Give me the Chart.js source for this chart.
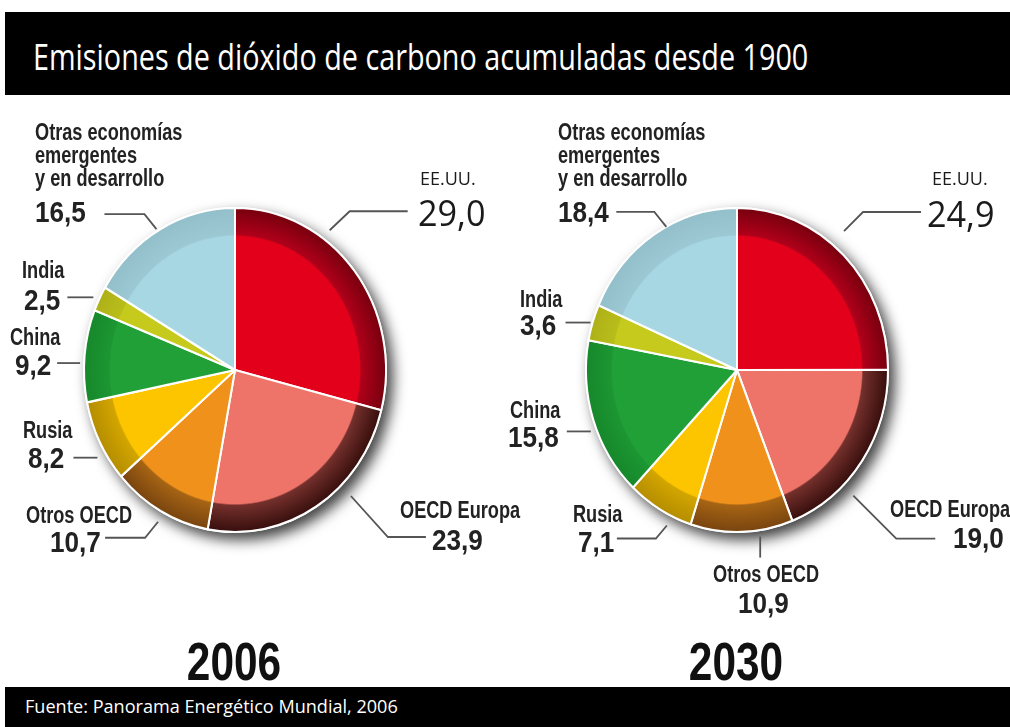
<!doctype html>
<html>

<head>
    <meta charset="utf-8" />
    <title>Emisiones de dióxido de carbono acumuladas desde 1900</title>
    <style>
        html,
        body {
            margin: 0px;
            padding: 0px;
            background-color: #ffffff;
        }

        body {
            position: relative;
            width: 1010px;
            height: 727px;
            overflow: hidden;
            font-family: "Open Sans", sans-serif;
        }

        .header {
            position: absolute;
            left: 5px;
            top: 12px;
            width: 1005px;
            height: 83px;
            background-color: #000000;
        }

        .header h1 {
            position: absolute;
            left: 28px;
            top: 25px;
            margin: 0px;
            color: #ffffff;
            font-weight: 400;
            font-size: 37px;
            line-height: 37px;
            white-space: nowrap;
            transform-origin: left center;
        }

        .footer {
            position: absolute;
            left: 5px;
            top: 687px;
            width: 1005px;
            height: 40px;
            background-color: #000000;
        }

        .footer span {
            position: absolute;
            left: 20px;
            top: 10px;
            color: #ffffff;
            font-size: 19px;
            line-height: 19px;
            white-space: nowrap;
            transform-origin: left center;
        }

        .pie {
            position: absolute;
            top: 100px;
        }
    </style>
</head>

<body>

    <div class="header">
        <h1 id="title">Emisiones de dióxido de carbono acumuladas desde 1900</h1>
    </div>

    <canvas class="pie" id="pie2006" width="560" height="587" style="left:0px"></canvas>
    <canvas class="pie" id="pie2030" width="505" height="587" style="left:505px"></canvas>

    <div class="footer">
        <span id="source">Fuente: Panorama Energético Mundial, 2006</span>
    </div>

    <script src="https://cdn.jsdelivr.net/npm/chart.js@4.4.1/dist/chart.umd.min.js"></script>

    <script>

        // data (% of cumulative emissions)
        const categories = ['EE.UU.', 'OECD Europa', 'Otros OECD', 'Rusia', 'China', 'India', 'Otras economías emergentes y en desarrollo'];
        const categoryLines = [['EE.UU.'], ['OECD Europa'], ['Otros OECD'], ['Rusia'], ['China'], ['India'], ['Otras economías', 'emergentes', 'y en desarrollo']];
        const values2006 = [29.0, 23.9, 10.7, 8.2, 9.2, 2.5, 16.5];
        const values2030 = [24.9, 19.0, 10.9, 7.1, 15.8, 3.6, 18.4];
        const years = ['2006', '2030'];

        // colours: face and darker rim of each slice
        const sliceColors = ['#e2001a', '#ee7368', '#f0911c', '#fcc500', '#21a037', '#c6ca1d', '#a7d7e3'];
        const rimColors = [
            ['#b0001a', '#76000e'],
            ['#74302c', '#360e0c'],
            ['#a66414', '#78440f'],
            ['#d2a500', '#b58d00'],
            ['#1c9632', '#16882b'],
            ['#b9bd1a', '#adb118'],
            ['#9cc8d4', '#93bfcb']
        ];

        const R = 151;          // pie radius
        const STRETCH = 1.073;  // the printed pies are a little taller than wide

        // label placement, relative to the pie centre
        const layout2006 = [
            { style: 'light', name: [185, -185], value: [183, -144], frac: 0.345, gap: 10, path: [[20, -19], [58, 0]] },
            { name: [165, 148], value: [197, 180], frac: 0.36, gap: 14, path: [[37, 41], [38, 0]] },
            { name: [-209, 153], value: [-185, 182], frac: 0.47, gap: 10, path: [[-13, 16], [-40, 0]] },
            { name: [-212, 68], value: [-207, 98], frac: 0.35, gap: 9, path: [[-24, 0]] },
            { name: [-225, -25], value: [-220, 5], frac: 0.42, gap: 4, path: [[-23, 0]] },
            { name: [-213, -92], value: [-211, -60], frac: 0.44, gap: 6, path: [[-26, 0]] },
            { name: [-200, -230], value: [-200, -148], frac: 0.48, gap: 2, path: [[-12, -15], [-40, 0]] }
        ];
        const layout2030 = [
            { style: 'light', name: [195, -185], value: [190, -143], frac: 0.44, gap: 17, path: [[19, -19], [58, 0]] },
            { name: [153, 147], value: [216, 178], frac: 0.66, gap: 14, path: [[43, 43], [39, 0]] },
            { name: [-24, 212], value: [1, 243], frac: 0.33, gap: 6, path: [[0, 21]] },
            { name: [-164, 152], value: [-159, 182], frac: 0.31, gap: 10, path: [[-11, 13], [-39, 0]] },
            { name: [-227, 48], value: [-229, 77], frac: 0.44, gap: 6, path: [[-24, 0]] },
            { name: [-217, -63], value: [-217, -35], frac: 0.48, gap: 2, path: [[-25, 0]] },
            { name: [-179, -230], value: [-179, -148], frac: 0.58, gap: 0, path: [[-12, -15], [-38, 0]] }
        ];

        function fitWidth(id, target) {
            var el = document.getElementById(id);
            el.style.transform = 'scaleX(' + (target / el.offsetWidth) + ')';
        }
        fitWidth('title', 775);
        fitWidth('source', 373);

        function formatValue(v) {
            return v.toFixed(1).replace('.', ',');
        }

        // face colour with a darker rim, as a radial gradient per slice
        function sliceFill(context) {
            const i = context.dataIndex;
            const area = context.chart.chartArea;
            if (context.type !== 'data' || !area) return sliceColors[i];
            const cx = (area.left + area.right) / 2;
            const cy = (area.top + area.bottom) / 2;
            const g = context.chart.ctx.createRadialGradient(cx, cy, 0, cx, cy, R);
            g.addColorStop(0, sliceColors[i]);
            g.addColorStop(0.825, sliceColors[i]);
            g.addColorStop(0.835, rimColors[i][0]);
            g.addColorStop(1, rimColors[i][1]);
            return g;
        }

        function drawText(ctx, str, x, y, font, sx, align) {
            ctx.save();
            ctx.translate(x, y);
            ctx.scale(sx, 1);
            ctx.font = font;
            ctx.textAlign = align || 'left';
            ctx.textBaseline = 'alphabetic';
            ctx.fillText(str, 0, 0);
            ctx.restore();
        }

        const pieLabels = {
            id: 'pieLabels',
            beforeDatasetsDraw(chart, args, opts) {
                const arc = chart.getDatasetMeta(0).data[0];
                const ctx = chart.ctx;
                ctx.save();
                ctx.translate(arc.x, arc.y);
                ctx.scale(1, opts.stretch);
                ctx.translate(-arc.x, -arc.y);
                // drop shadow under the disc
                ctx.save();
                ctx.beginPath();
                ctx.arc(arc.x, arc.y, arc.outerRadius + 1, 0, Math.PI * 2);
                ctx.fillStyle = '#ffffff';
                ctx.shadowColor = 'rgba(0,0,0,0.75)';
                ctx.shadowBlur = 14;
                ctx.shadowOffsetX = 6;
                ctx.shadowOffsetY = 7;
                ctx.fill();
                ctx.restore();
            },
            afterDatasetsDraw(chart) {
                chart.ctx.restore();
            },
            afterDraw(chart, args, opts) {
                const ctx = chart.ctx;
                const meta = chart.getDatasetMeta(0);
                const values = chart.data.datasets[0].data;
                const cx = meta.data[0].x;
                const cy = meta.data[0].y;

                meta.data.forEach(function (el, i) {
                    const L = opts.layout[i];
                    // leader line, starting just outside the slice
                    const a = el.startAngle + L.frac * (el.endAngle - el.startAngle);
                    const r = el.outerRadius + L.gap;
                    let px = cx + r * Math.cos(a);
                    let py = cy + r * Math.sin(a) * opts.stretch;
                    ctx.save();
                    ctx.strokeStyle = '#555555';
                    ctx.lineWidth = 1.8;
                    ctx.beginPath();
                    ctx.moveTo(px, py);
                    L.path.forEach(function (d) {
                        px += d[0];
                        py += d[1];
                        ctx.lineTo(px, py);
                    });
                    ctx.stroke();
                    ctx.restore();

                    // name and value
                    const light = L.style === 'light';
                    ctx.fillStyle = light ? '#1a1a1a' : '#222222';
                    const nameFont = light ? '400 18px "Open Sans"' : 'bold 23px "Liberation Sans"';
                    const valueFont = light ? '400 36px "Open Sans"' : 'bold 29px "Liberation Sans"';
                    categoryLines[i].forEach(function (line, j) {
                        drawText(ctx, line, cx + L.name[0], cy + L.name[1] + j * 23, nameFont, light ? 1 : 0.79);
                    });
                    drawText(ctx, formatValue(values[i]), cx + L.value[0], cy + L.value[1], valueFont, light ? 0.95 : 0.9);
                });

                // year under the pie
                ctx.fillStyle = '#111111';
                drawText(ctx, opts.year, cx - 1, cy + 310, 'bold 53px "Liberation Sans"', 0.8, 'center');
            }
        };

        function makePie(id, values, layout, year, padRight) {
            return new Chart(document.getElementById(id), {
                type: 'pie',
                data: {
                    labels: categories,
                    datasets: [{
                        data: values,
                        backgroundColor: sliceFill,
                        borderColor: '#ffffff',
                        borderWidth: 2,
                        clip: false
                    }]
                },
                options: {
                    responsive: false,
                    animation: false,
                    events: [],
                    radius: R,
                    layout: { padding: { left: 0, right: padRight, top: 0, bottom: 47 } },
                    plugins: {
                        legend: { display: false },
                        tooltip: { enabled: false },
                        pieLabels: { layout: layout, year: year, stretch: STRETCH }
                    }
                },
                plugins: [pieLabels]
            });
        }

        makePie('pie2006', values2006, layout2006, years[0], 90);
        makePie('pie2030', values2030, layout2030, years[1], 41);

    </script>

</body>

</html>
